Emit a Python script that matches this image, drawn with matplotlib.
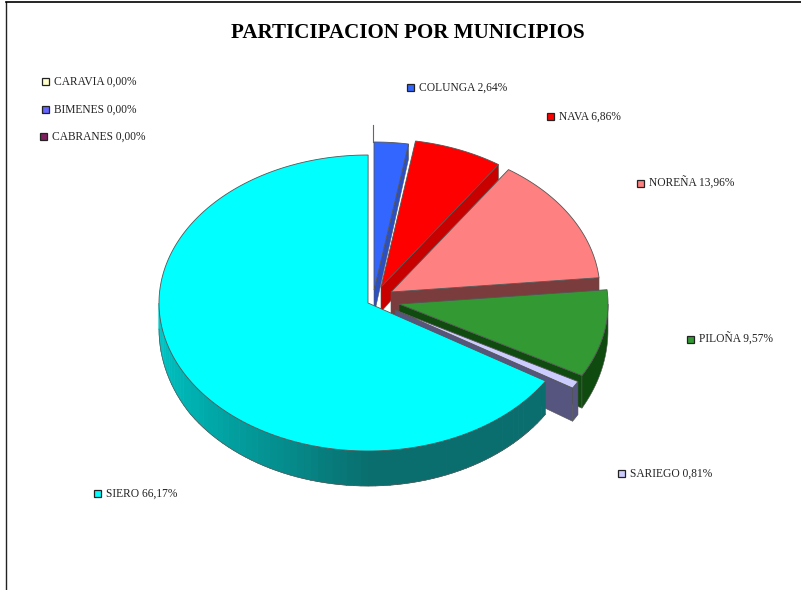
import numpy as np
import matplotlib
matplotlib.use("Agg")
import matplotlib.pyplot as plt
from matplotlib.colors import to_rgb
from matplotlib.patches import Polygon, Rectangle

plt.rcParams["font.family"] = ["Liberation Serif", "DejaVu Serif"]

# --- data ---
municipios = ["COLUNGA", "NAVA", "NOREÑA", "PILOÑA", "SARIEGO", "SIERO", "CARAVIA", "BIMENES", "CABRANES"]
porcentajes = [2.64, 6.86, 13.96, 9.57, 0.81, 66.17, 0.00, 0.00, 0.00]
titulo = "PARTICIPACION POR MUNICIPIOS"

# --- style, in pixels of the 801x590 picture ---
top_colors = ["#3366FF", "#FF0000", "#FF8080", "#339933", "#CCCCFF", "#00FFFF", "#FFFFCC", "#6666FF", "#7F1F5F"]
side_colors = ["#2D50C0", "#C80000", "#7A3C3C", "#0F4A0F", "#55557F", "#0A6E6E", "#FFFFCC", "#6666FF", "#7F1F5F"]
tips = [(374, 290), (381, 287), (391, 292), (399, 304), (395, 310), (368, 303)]
label_pos = [(419, 87), (559, 116), (649, 183), (699, 339), (630, 473), (106, 493), (54, 81), (54, 109), (52, 136)]
RX, RY = 209, 148

# shading of the big wall, from the front round to the left edge
wall_angles = [120, 180, 205, 235, 270]
wall_shades = ["#0A6E6E", "#0A6E6E", "#058E8E", "#00AFAF", "#00CACA"]


def depth(y):
    # the extrusion grows towards the viewer
    return np.interp(y, [160, 290, 380, 451], [15, 25, 33, 35])


def arc(tip, a0, a1):
    t = np.radians(np.linspace(a0, a1, max(int(abs(a1 - a0)) * 2, 2)))
    return np.column_stack([tip[0] + RX * np.sin(t), tip[1] - RY * np.cos(t)])


def extrude(points):
    pts = np.asarray(points, dtype=float)
    low = pts.copy()
    low[:, 1] += depth(pts[:, 1])
    return np.vstack([pts, low[::-1]])


def wall_color(angle):
    rgb = np.array([to_rgb(c) for c in wall_shades])
    return [np.interp(angle, wall_angles, rgb[:, k]) for k in range(3)]


fig = plt.figure(figsize=(8.01, 5.9), dpi=100)
ax = fig.add_axes([0, 0, 1, 1])
ax.set_xlim(0, 801)
ax.set_ylim(590, 0)
ax.axis("off")

# page frame
ax.plot([6, 6], [590, 2], color="#222222", lw=1.0)
ax.plot([6, 801], [2, 2], color="black", lw=1.2)

angles = np.cumsum([0] + porcentajes) * 3.6
edge = "#555555"

# line left by the zero slices at twelve o'clock
ax.plot([373, 373], [125, 142], color="#666666", lw=0.8)

for i, tip in enumerate(tips):
    a0, a1 = angles[i], angles[i + 1]
    z = i * 3
    # cut face at the end of the slice
    if a1 < 180:
        end = arc(tip, a1, a1 + 0.01)[0]
        ax.add_patch(Polygon(extrude([tip, end]), fc=side_colors[i], ec=edge, lw=0.4, zorder=z + 1))
    # outer wall, only where it faces the viewer
    lo, hi = max(a0, 90), min(a1, 270)
    if hi > lo:
        if municipios[i] == "SIERO":
            steps = np.arange(lo, hi, 2.0)
            for s in steps:
                col = wall_color(s + 1)
                ax.add_patch(Polygon(extrude(arc(tip, s, min(s + 2.2, hi))), fc=col, ec=col, lw=0.3, zorder=z + 2))
            outline = arc(tip, lo, hi)
            outline[:, 1] += depth(outline[:, 1])
            ax.plot(outline[:, 0], outline[:, 1], color=edge, lw=0.5, zorder=z + 2)
        else:
            ax.add_patch(Polygon(extrude(arc(tip, lo, hi)), fc=side_colors[i], ec=edge, lw=0.4, zorder=z + 2))
    # top face
    ax.add_patch(Polygon(np.vstack([[tip], arc(tip, a0, a1)]), fc=top_colors[i], ec=edge, lw=0.6, zorder=z + 3))

ax.text(408, 32.5, titulo, fontsize=15.1, fontweight="bold", ha="center", va="center", color="black")

for i, name in enumerate(municipios):
    x, y = label_pos[i]
    ax.add_patch(Rectangle((x - 12.5, y - 3.5), 7, 7, fc=top_colors[i], ec="#222222", lw=0.9, zorder=40))
    text = f"{name} {porcentajes[i]:.2f}%".replace(".", ",")
    ax.text(x, y + 0.6, text, fontsize=8.3, ha="left", va="center", color="#222222", zorder=40)

fig.savefig("out.png", dpi=100)
